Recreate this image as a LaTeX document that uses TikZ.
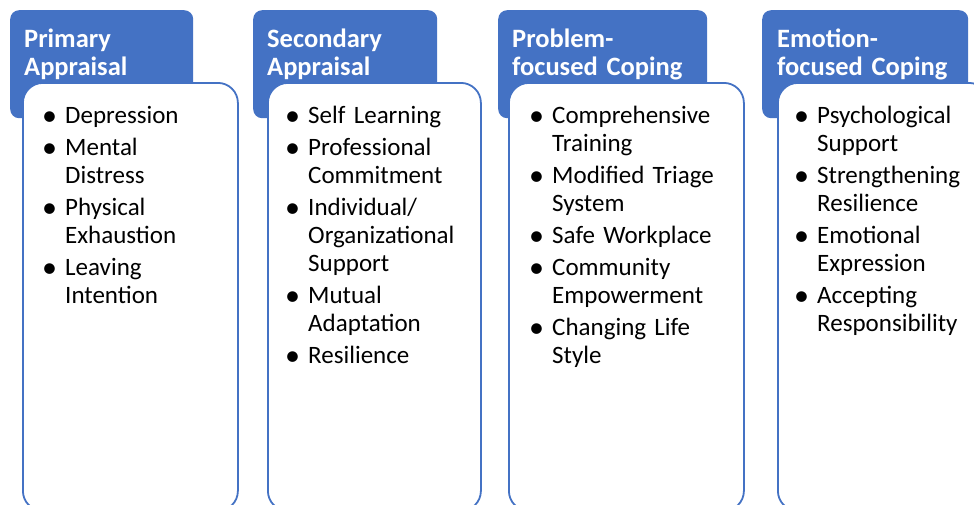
\documentclass[tikz,border=0pt]{standalone}
\usepackage{fontspec}
\setmainfont{Carlito}
\usepackage{tikz}
\definecolor{appblue}{HTML}{4472C4}

% one bullet point of a card
\newcommand{\bpt}[1]{\noindent\hangindent=21pt\hangafter=1\makebox[21pt][l]{\hspace{-2pt}\raisebox{-2.5pt}{\fontsize{30}{28}\selectfont\textbullet}}#1\par}

\tikzset{
    headbox/.style={rectangle, rounded corners=9pt, fill=appblue, inner sep=0pt, anchor=north west},
    cardbox/.style={rectangle, rounded corners=20pt, draw=appblue, line width=1.8pt, fill=white, inner sep=0pt, anchor=north west},
    headtext/.style={text=white, font=\fontsize{26.5}{28}\selectfont\bfseries, text width=200pt, align=left, inner sep=0pt, anchor=base west},
    listtext/.style={text=black, font=\fontsize{25}{28}\selectfont\setlength{\parskip}{4pt}, text width=220pt, align=left, inner sep=0pt, anchor=base west}
}

\begin{document}
\begin{tikzpicture}[x=1pt, y=-1pt]
    \useasboundingbox (0,0) rectangle (974,504);
    \clip (0,0) rectangle (974,504);

    % Draw the header and card boxes
    \foreach \n/\hx/\hw/\bx/\bw in {1/10/183/22/215, 2/253/184/267/213, 3/498/209/508/235, 4/762/206/777/211} {
        \node[headbox, minimum width=\hw pt, minimum height=108pt] (h\n) at (\hx,10) {};
        \node[cardbox, minimum width=\bw pt, minimum height=428pt] (b\n) at (\bx,82) {};
    }

    % Header titles
    \node[headtext] (t1) at (24,47) {Primary\\Appraisal};
    \node[headtext] (t2) at (267,47) {Secondary\\Appraisal};
    \node[headtext] (t3) at (512,47) {Problem-\\focused Coping};
    \node[headtext] (t4) at (777,47) {Emotion-\\focused Coping};

    % Bullet lists
    \node[listtext] (l1) at (44,123) {\bpt{Depression}\bpt{Mental\newline Distress}\bpt{Physical\newline Exhaustion}\bpt{Leaving\newline Intention}};
    \node[listtext] (l2) at (287,123) {\bpt{Self Learning}\bpt{Professional\newline Commitment}\bpt{Individual/\newline Organizational\newline Support}\bpt{Mutual\newline Adaptation}\bpt{Resilience}};
    \node[listtext] (l3) at (531,123) {\bpt{Comprehensive\newline Training}\bpt{Modified Triage\newline System}\bpt{Safe Workplace}\bpt{Community\newline Empowerment}\bpt{Changing Life\newline Style}};
    \node[listtext] (l4) at (796,123) {\bpt{Psychological\newline Support}\bpt{Strengthening\newline Resilience}\bpt{Emotional\newline Expression}\bpt{Accepting\newline Responsibility}};
\end{tikzpicture}
\end{document}
